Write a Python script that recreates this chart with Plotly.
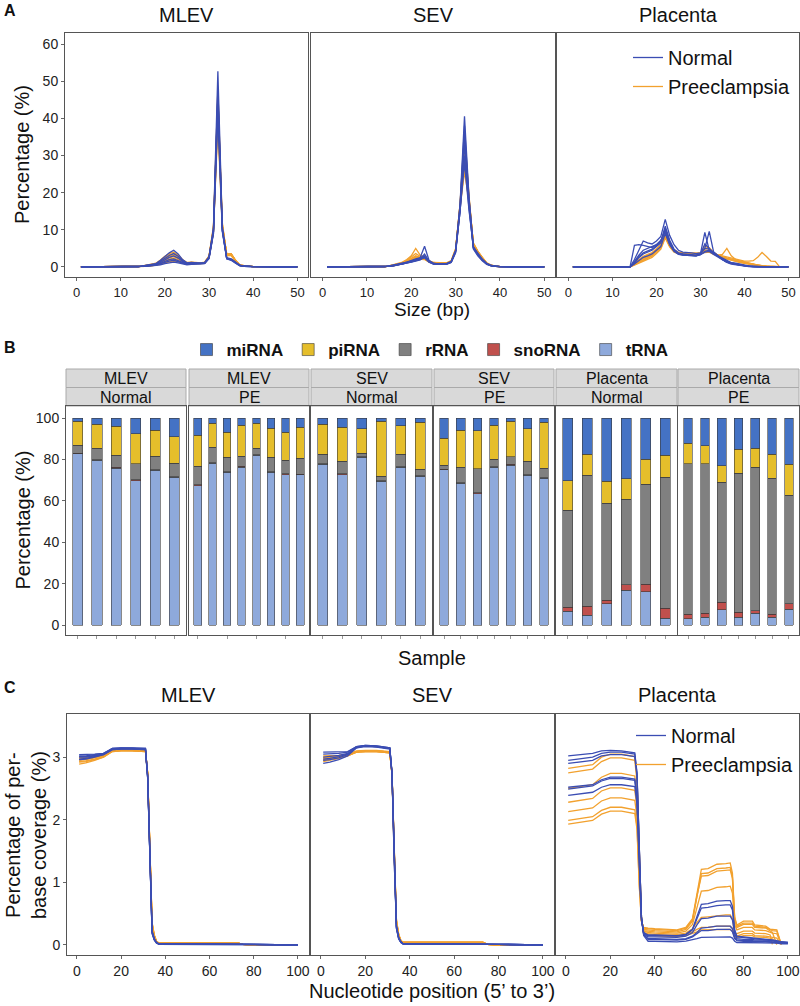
import plotly.graph_objects as go

W, H = 800, 1006
BLUE = "#3B4DB3"
ORANGE = "#F2A12E"
FONT = "Liberation Sans, Arial, Helvetica, sans-serif"

# ---------------- Panel A: size distribution ----------------
size_x = [1, 14, 15, 16, 17, 18, 19, 20, 21, 22, 23, 24, 25, 26, 27, 28, 29, 30,
          31, 32, 33, 34, 35, 36, 37, 38, 39, 40, 45, 50]
size_x_placenta = [1, 14, 15, 16, 17, 18, 19, 20, 21, 22, 23, 24, 25, 26, 27, 28, 29, 30,
                   31, 32, 33, 34, 35, 36, 37, 38, 39, 40, 41, 42, 43, 44, 45, 46, 47, 48, 49, 50]

mlev_size_normal = [
    [0,0,0.3,0.5,0.6,0.9,1.8,2.8,3.8,4.5,3.5,2.0,1.1,1.2,1.1,1.0,1.2,2.8,10.5,52.7,11.0,2.3,2.0,1.2,0.4,0.3,0.2,0.1,0,0],
    [0,0,0.2,0.4,0.5,0.7,1.2,1.9,2.6,3.0,2.4,1.5,0.9,1.0,1.0,0.9,1.1,2.5,9.5,45.9,10.0,2.2,1.8,1.0,0.3,0.2,0.1,0.1,0,0],
    [0,0,0.1,0.2,0.3,0.4,0.6,0.9,1.1,1.3,1.1,0.8,0.6,0.7,0.7,0.7,0.9,2.2,9.0,43.0,10.0,2.5,2.2,1.3,0.4,0.2,0.1,0.1,0,0],
    [0,0,0.3,0.4,0.6,0.8,1.5,2.4,3.1,3.6,2.9,1.7,1.0,1.1,1.0,0.9,1.1,2.6,10.0,48.0,10.5,2.4,2.0,1.1,0.4,0.3,0.2,0.1,0,0],
    [0,0,0.2,0.3,0.4,0.6,1.0,1.6,2.0,2.2,1.8,1.2,0.8,0.9,0.9,0.8,1.0,2.4,9.0,41.0,9.5,2.3,2.1,1.2,0.4,0.2,0.1,0.1,0,0],
    [0,0,0.2,0.3,0.4,0.5,0.9,1.3,1.6,1.8,1.5,1.0,0.7,0.8,0.8,0.8,1.0,2.5,9.5,46.0,10.0,2.2,1.9,1.1,0.3,0.2,0.1,0.1,0,0],
]
mlev_size_pe = [
    [0,0,0.3,0.5,0.7,1.0,1.9,2.9,3.6,4.0,3.2,2.0,1.2,1.3,1.2,1.1,1.3,3.0,11.0,47.9,12.0,3.3,3.3,1.6,0.5,0.3,0.2,0.1,0,0],
    [0,0,0.2,0.4,0.6,0.8,1.5,2.3,2.9,3.2,2.7,1.7,1.1,1.2,1.1,1.0,1.2,2.8,10.5,44.0,11.5,3.2,3.4,1.7,0.5,0.3,0.2,0.1,0,0],
    [0,0,0.2,0.3,0.5,0.7,1.3,2.0,2.5,2.8,2.3,1.5,1.0,1.1,1.0,1.0,1.2,2.7,10.0,42.0,11.0,3.5,3.6,1.8,0.5,0.3,0.2,0.1,0,0],
    [0,0,0.2,0.3,0.4,0.6,1.1,1.7,2.1,2.4,2.0,1.3,0.9,1.0,1.0,0.9,1.1,2.6,9.5,40.0,11.0,3.4,3.5,1.7,0.5,0.3,0.2,0.1,0,0],
    [0,0,0.1,0.2,0.4,0.5,0.9,1.4,1.8,2.0,1.7,1.1,0.8,0.9,0.9,0.9,1.1,2.7,10.0,46.0,11.5,3.1,3.2,1.6,0.5,0.3,0.2,0.1,0,0],
    [0,0,0.3,0.5,0.7,0.9,1.7,2.6,3.3,3.6,2.9,1.8,1.1,1.2,1.1,1.0,1.2,2.9,10.5,45.0,11.0,3.0,3.1,1.5,0.4,0.3,0.2,0.1,0,0],
    [0,0,0.1,0.2,0.3,0.4,0.7,1.1,1.4,1.6,1.4,1.0,0.7,0.8,0.8,0.8,1.0,2.5,9.5,43.0,11.0,3.3,3.5,1.7,0.5,0.3,0.2,0.1,0,0],
    [0,0,0.2,0.4,0.5,0.7,1.4,2.1,2.6,2.9,2.4,1.6,1.0,1.1,1.1,1.0,1.2,2.8,10.0,38.0,10.5,3.4,3.6,1.8,0.5,0.3,0.2,0.1,0,0],
]
sev_size_normal = [
    [0,0,0.3,0.5,0.8,1.0,1.3,1.8,2.2,2.5,5.6,1.8,1.0,0.8,0.8,0.9,1.5,4.5,17,40.6,19,5.5,3.5,2.0,0.9,0.4,0.2,0.1,0,0],
    [0,0,0.2,0.4,0.7,0.9,1.1,1.5,1.9,2.2,3.5,1.6,0.9,0.7,0.7,0.8,1.3,4.0,16,36.0,18,5.0,3.2,1.8,0.8,0.3,0.2,0.1,0,0],
    [0,0,0.2,0.3,0.5,0.7,1.0,1.3,1.6,1.9,2.8,1.4,0.8,0.7,0.7,0.8,1.2,3.8,15,33.0,17,4.8,3.0,1.7,0.7,0.3,0.1,0.1,0,0],
    [0,0,0.3,0.4,0.6,0.8,1.2,1.6,2.0,2.3,3.0,1.5,0.9,0.8,0.8,0.9,1.4,4.2,15,30.0,16,5.2,3.4,1.9,0.9,0.4,0.2,0.1,0,0],
    [0,0,0.2,0.3,0.5,0.8,1.1,1.4,1.8,2.0,2.5,1.3,0.8,0.7,0.7,0.8,1.3,4.3,16.5,38.0,18.5,5.3,3.3,1.9,0.8,0.3,0.2,0.1,0,0],
    [0,0,0.2,0.4,0.6,0.8,1.0,1.4,1.7,2.0,2.6,1.4,0.9,0.8,0.8,0.9,1.4,4.4,15,28.0,15.5,5.4,3.6,2.1,1.0,0.4,0.2,0.1,0,0],
]
sev_size_pe = [
    [0,0,0.3,0.5,0.8,1.1,1.6,2.4,3.0,2.6,2.2,1.5,1.1,1.0,1.0,1.0,1.5,4.6,17,34.2,19,6.0,4.0,2.3,1.0,0.4,0.2,0.1,0,0],
    [0,0,0.3,0.6,0.9,1.3,2.0,3.0,5.0,3.2,2.6,1.7,1.2,1.1,1.1,1.1,1.7,5.0,16,25.6,18,6.5,4.3,2.5,1.1,0.5,0.2,0.1,0,0],
    [0,0,0.2,0.4,0.7,1.0,1.4,2.0,2.6,2.4,2.1,1.4,1.0,0.9,0.9,1.0,1.5,4.5,16,31.0,18.5,6.2,4.1,2.4,1.0,0.4,0.2,0.1,0,0],
    [0,0,0.2,0.4,0.7,1.0,1.5,2.2,2.8,2.5,2.3,1.5,1.1,1.0,1.0,1.0,1.6,4.7,16.5,29.0,18,6.1,4.2,2.4,1.0,0.4,0.2,0.1,0,0],
    [0,0,0.2,0.3,0.6,0.9,1.2,1.7,2.2,2.1,2.0,1.3,0.9,0.8,0.9,0.9,1.4,4.4,17,36.0,19.5,5.8,3.8,2.2,0.9,0.4,0.2,0.1,0,0],
    [0,0,0.3,0.5,0.8,1.2,1.8,2.7,3.6,2.9,2.4,1.6,1.2,1.1,1.0,1.1,1.6,4.8,16,27.0,17.5,6.3,4.2,2.5,1.1,0.5,0.2,0.1,0,0],
    [0,0,0.2,0.4,0.6,0.9,1.3,1.9,2.4,2.2,2.1,1.4,1.0,0.9,0.9,1.0,1.5,4.5,16.5,32.0,18.5,6.0,4.0,2.3,1.0,0.4,0.2,0.1,0,0],
]
placenta_size_normal = [
    [0,0,2.0,4.5,7.0,6.5,6.2,7.0,8.2,12.8,8.5,6.0,4.5,4.0,4.0,3.8,3.6,3.8,5.0,4.8,3.6,3.0,2.2,1.6,1.2,1.0,0.7,0.5,0.3,0.2,0.1,0.1,0.05,0,0,0,0,0],
    [0,0,1.0,2.5,3.5,4.0,4.5,5.5,6.5,10.5,7.0,4.5,3.5,3.2,3.2,3.0,3.0,3.5,9.3,4.5,4.0,3.0,2.0,1.3,1.0,0.8,0.5,0.3,0.2,0.1,0.1,0.05,0,0,0,0,0,0],
    [0,0,1.2,2.8,3.8,4.2,4.8,5.8,6.8,11.0,7.2,4.8,3.8,3.5,3.5,3.3,3.2,3.6,5.0,9.6,4.0,3.0,2.0,1.3,0.9,0.7,0.5,0.3,0.2,0.1,0.05,0,0,0,0,0,0,0],
    [0,0,0.8,1.8,2.6,3.0,3.5,4.5,5.5,9.0,6.0,4.2,3.4,3.2,3.2,3.0,3.0,3.3,4.2,4.5,3.6,2.8,2.0,1.4,1.0,0.8,0.5,0.3,0.2,0.1,0.05,0,0,0,0,0,0,0],
    [0,0,1.5,3.2,4.5,5.0,5.3,6.0,7.0,10.0,6.5,4.5,3.6,3.4,3.4,3.2,3.1,3.4,6.2,5.0,3.8,2.9,2.1,1.5,1.1,0.8,0.6,0.4,0.2,0.1,0.05,0,0,0,0,0,0,0],
    [0,0,5.8,6.0,5.8,5.5,5.2,6.0,7.2,9.5,6.2,4.3,3.5,3.3,3.3,3.1,3.0,3.3,4.0,4.2,3.4,2.6,1.8,1.2,0.8,0.6,0.4,0.2,0.1,0.05,0,0,0,0,0,0,0,0],
]
placenta_size_pe = [
    [0,0,0.6,1.2,1.8,2.4,3.0,4.0,5.2,8.1,5.6,4.2,3.8,3.8,3.8,3.7,3.6,3.8,4.4,4.6,3.8,3.2,3.0,2.7,2.3,2.0,1.8,1.6,1.6,1.7,2.6,3.9,2.8,1.6,1.5,0,0,0],
    [0,0,0.8,1.6,2.3,2.8,3.3,4.2,5.5,9.0,6.2,4.6,3.9,3.8,3.8,3.6,3.5,3.8,4.0,4.2,3.5,3.2,3.4,5.0,3.0,2.0,1.6,1.3,1.0,0.7,0.5,0.3,0.2,0.1,0.05,0,0,0],
    [0,0,1.0,1.9,2.6,3.1,3.6,4.6,5.8,8.8,6.0,4.4,3.8,3.7,3.7,3.5,3.4,3.6,4.8,5.2,3.9,3.1,2.5,2.2,1.8,1.5,1.2,1.0,0.8,0.6,0.4,0.3,0.2,0.1,0,0,0,0],
    [0,0,0.7,1.4,2.0,2.6,3.1,4.1,5.3,9.6,6.4,4.5,3.8,3.6,3.6,3.5,3.4,3.7,4.5,4.3,3.6,3.0,2.6,2.3,2.0,1.8,1.6,1.2,0.9,0.6,0.4,0.3,0.2,0.1,0,0,0,0],
    [0,0,0.9,1.7,2.4,2.9,3.4,4.3,5.4,8.4,5.8,4.3,3.7,3.6,3.6,3.5,3.4,3.6,3.9,4.0,3.4,2.9,2.5,2.2,1.9,1.6,1.4,1.1,0.8,0.6,0.4,0.3,0.2,0.1,0,0,0,0],
    [0,0,0.5,1.0,1.5,2.0,2.6,3.6,4.8,7.8,5.4,4.0,3.6,3.5,3.5,3.4,3.3,3.5,4.1,4.4,3.6,3.1,2.8,2.4,2.1,1.9,1.6,1.3,1.0,0.7,0.5,0.3,0.2,0.1,0.05,0,0,0],
    [0,0,1.1,2.1,2.9,3.4,3.9,4.9,6.1,9.2,6.3,4.6,3.9,3.8,3.8,3.6,3.5,3.7,5.6,5.0,3.9,3.1,2.6,2.3,1.9,1.6,1.3,1.0,0.7,0.5,0.3,0.2,0.1,0.05,0,0,0,0],
]

# ---------------- Panel B: RNA composition ----------------
rna_classes = ["tRNA", "snoRNA", "rRNA", "piRNA", "miRNA"]   # stacking order (bottom -> top)
rna_colors = {"miRNA": "#4472C4", "piRNA": "#E5BE2B", "rRNA": "#808080",
              "snoRNA": "#C0504D", "tRNA": "#8EA9DB"}
facet_tissue = ["MLEV", "MLEV", "SEV", "SEV", "Placenta", "Placenta"]
facet_group = ["Normal", "PE", "Normal", "PE", "Normal", "PE"]

tRNA = [
    [82.7, 79.5, 75.8, 69.8, 74.7, 71.3],
    [67.4, 78.1, 73.7, 76.3, 81.9, 73.7, 72.7, 72.6],
    [77.6, 72.7, 81.0, 69.4, 76.1, 71.8],
    [75.0, 68.5, 63.5, 76.1, 77.3, 72.3, 70.8],
    [6.6, 4.7, 10.2, 16.8, 16.1, 3.2],
    [3.1, 3.7, 7.4, 3.7, 5.6, 3.7, 7.6],
]
snoRNA = [
    [0.3, 0.3, 0.3, 0.3, 0.3, 0.3],
    [0.3, 0.3, 0.3, 0.3, 0.3, 0.3, 0.3, 0.3],
    [0.3, 0.3, 0.3, 0.3, 0.3, 0.3],
    [0.3, 0.3, 0.3, 0.3, 0.3, 0.3, 0.3],
    [1.9, 4.5, 1.9, 2.6, 3.6, 4.9],
    [2.1, 1.9, 3.6, 2.4, 1.3, 1.6, 2.6],
]
rRNA = [
    [3.8, 5.7, 6.0, 7.8, 6.6, 6.6],
    [9.1, 7.6, 7.0, 5.0, 3.3, 7.0, 6.7, 7.7],
    [4.7, 6.2, 1.8, 2.2, 6.2, 3.2],
    [2.0, 7.5, 11.7, 3.8, 3.7, 6.6, 4.7],
    [47.0, 63.2, 46.8, 41.4, 48.4, 63.4],
    [72.7, 72.3, 58.0, 67.3, 69.4, 65.7, 52.5],
]
piRNA = [
    [11.6, 11.4, 14.0, 14.5, 12.4, 12.8],
    [14.8, 11.4, 12.2, 14.9, 11.9, 14.0, 13.4, 14.9],
    [14.5, 16.3, 11.7, 26.5, 13.7, 22.6],
    [13.0, 17.9, 18.4, 16.3, 17.1, 15.5, 22.1],
    [14.3, 10.0, 10.5, 9.8, 11.9, 10.4],
    [9.8, 8.6, 7.9, 11.6, 9.2, 11.6, 14.9],
]
miRNA = [
    [1.6, 3.1, 3.9, 7.6, 6.0, 9.0],
    [8.4, 2.6, 6.8, 3.5, 2.6, 5.0, 6.9, 4.5],
    [2.9, 4.5, 5.2, 1.6, 3.7, 2.1],
    [9.7, 5.8, 6.1, 3.5, 1.6, 5.3, 2.1],
    [30.2, 17.6, 30.6, 29.4, 20.0, 18.1],
    [12.3, 13.5, 23.1, 15.0, 14.5, 17.4, 22.4],
]
rna_values = {"tRNA": tRNA, "snoRNA": snoRNA, "rRNA": rRNA, "piRNA": piRNA, "miRNA": miRNA}

# ---------------- Panel C: per-base coverage ----------------
cov_x = [1, 4, 8, 12, 16, 20, 25, 31, 32, 33, 34, 35, 36, 37, 40, 60, 73, 75, 80, 100]
cov_x_placenta = [1, 12, 16, 20, 25, 31, 32, 33, 34, 35, 37, 40, 50, 54, 57, 59, 61, 64, 68,
                  72, 74, 75, 76, 77, 80, 84, 85, 90, 92, 93, 95, 97, 100]

mlev_cov_normal = [
    [3.04,3.04,3.05,3.06,3.14,3.15,3.15,3.14,2.70,1.30,0.22,0.10,0.04,0.02,0.02,0.02,0.02,0.01,0.01,0.00],
    [3.02,3.02,3.04,3.06,3.13,3.14,3.14,3.13,2.68,1.28,0.20,0.09,0.04,0.02,0.02,0.02,0.02,0.01,0.01,0.00],
    [2.97,2.98,3.01,3.04,3.12,3.13,3.13,3.12,2.66,1.25,0.18,0.08,0.03,0.01,0.01,0.01,0.01,0.01,0.00,0.00],
    [3.00,3.00,3.02,3.05,3.13,3.14,3.14,3.13,2.69,1.29,0.21,0.09,0.04,0.02,0.02,0.02,0.02,0.01,0.01,0.00],
    [2.96,2.97,3.00,3.04,3.12,3.13,3.13,3.12,2.67,1.27,0.19,0.08,0.03,0.02,0.02,0.02,0.02,0.01,0.01,0.00],
    [3.01,3.01,3.03,3.05,3.14,3.15,3.15,3.14,2.71,1.31,0.22,0.10,0.04,0.02,0.02,0.02,0.02,0.01,0.01,0.00],
]
mlev_cov_pe = [
    [2.89,2.91,2.95,3.00,3.09,3.10,3.10,3.09,2.75,1.45,0.35,0.15,0.06,0.03,0.03,0.03,0.03,0.01,0.00,0.00],
    [2.93,2.94,2.97,3.01,3.10,3.11,3.11,3.10,2.74,1.42,0.33,0.14,0.05,0.03,0.03,0.03,0.03,0.01,0.00,0.00],
    [2.95,2.96,2.99,3.02,3.11,3.11,3.11,3.10,2.73,1.40,0.30,0.13,0.05,0.03,0.03,0.03,0.03,0.01,0.00,0.00],
    [2.98,2.98,3.00,3.03,3.10,3.11,3.11,3.10,2.72,1.38,0.28,0.12,0.05,0.03,0.03,0.03,0.03,0.01,0.00,0.00],
    [3.00,3.00,3.02,3.04,3.11,3.12,3.12,3.11,2.74,1.41,0.32,0.14,0.05,0.03,0.03,0.03,0.03,0.01,0.00,0.00],
    [2.92,2.93,2.96,3.00,3.09,3.10,3.10,3.09,2.73,1.43,0.34,0.15,0.06,0.03,0.03,0.03,0.03,0.01,0.00,0.00],
    [2.96,2.97,3.00,3.03,3.12,3.12,3.12,3.11,2.75,1.44,0.36,0.16,0.06,0.03,0.03,0.03,0.03,0.01,0.00,0.00],
    [2.99,2.99,3.01,3.03,3.10,3.11,3.11,3.10,2.72,1.39,0.29,0.13,0.05,0.03,0.03,0.03,0.03,0.01,0.00,0.00],
]
sev_cov_normal = [
    [3.08,3.08,3.08,3.09,3.17,3.19,3.18,3.15,2.75,1.35,0.30,0.12,0.05,0.02,0.02,0.02,0.02,0.01,0.01,0.00],
    [2.90,2.92,2.96,3.02,3.15,3.18,3.17,3.14,2.74,1.33,0.28,0.11,0.05,0.02,0.02,0.02,0.02,0.01,0.01,0.00],
    [2.97,2.98,3.01,3.05,3.16,3.18,3.17,3.14,2.73,1.32,0.27,0.10,0.04,0.02,0.02,0.02,0.02,0.01,0.01,0.00],
    [3.05,3.05,3.06,3.08,3.17,3.19,3.18,3.15,2.76,1.36,0.30,0.12,0.05,0.02,0.02,0.02,0.02,0.01,0.01,0.00],
    [2.95,2.96,2.99,3.04,3.15,3.17,3.16,3.13,2.72,1.31,0.26,0.10,0.04,0.02,0.02,0.02,0.02,0.01,0.01,0.00],
    [3.00,3.01,3.03,3.06,3.16,3.18,3.17,3.14,2.74,1.34,0.29,0.11,0.05,0.02,0.02,0.02,0.02,0.01,0.01,0.00],
]
sev_cov_pe = [
    [2.93,2.95,2.98,3.02,3.08,3.09,3.09,3.07,2.74,1.45,0.38,0.16,0.07,0.04,0.04,0.04,0.04,0.01,0.00,0.00],
    [2.96,2.97,3.00,3.03,3.09,3.10,3.10,3.08,2.75,1.46,0.40,0.17,0.07,0.04,0.04,0.04,0.04,0.01,0.00,0.00],
    [3.00,3.00,3.02,3.04,3.09,3.10,3.10,3.08,2.73,1.43,0.36,0.15,0.06,0.04,0.04,0.04,0.04,0.01,0.00,0.00],
    [2.98,2.99,3.01,3.03,3.08,3.09,3.09,3.07,2.72,1.42,0.35,0.15,0.06,0.04,0.04,0.04,0.04,0.01,0.00,0.00],
    [3.02,3.02,3.03,3.05,3.10,3.11,3.11,3.09,2.76,1.47,0.40,0.17,0.07,0.04,0.04,0.04,0.04,0.01,0.00,0.00],
    [2.95,2.96,2.99,3.02,3.08,3.09,3.09,3.07,2.74,1.44,0.37,0.16,0.06,0.04,0.04,0.04,0.04,0.01,0.00,0.00],
    [2.99,2.99,3.01,3.04,3.09,3.10,3.10,3.08,2.73,1.41,0.34,0.14,0.06,0.04,0.04,0.04,0.04,0.01,0.00,0.00],
]
placenta_cov_normal = [
    [3.02,3.06,3.10,3.11,3.10,3.07,2.75,1.40,0.45,0.15,0.06,0.06,0.05,0.06,0.08,0.10,0.12,0.12,0.13,0.13,0.13,0.11,0.06,0.04,0.04,0.04,0.04,0.03,0.03,0.03,0.03,0.02,0.02],
    [2.90,2.95,3.02,3.04,3.04,3.01,2.70,1.35,0.45,0.17,0.09,0.09,0.08,0.09,0.13,0.18,0.23,0.23,0.25,0.25,0.25,0.21,0.10,0.07,0.06,0.06,0.05,0.05,0.05,0.04,0.04,0.03,0.03],
    [2.52,2.56,2.64,2.68,2.68,2.65,2.35,1.20,0.42,0.20,0.16,0.16,0.15,0.17,0.25,0.45,0.65,0.66,0.70,0.71,0.71,0.62,0.25,0.14,0.13,0.12,0.11,0.10,0.09,0.08,0.07,0.05,0.04],
    [2.49,2.54,2.62,2.66,2.66,2.63,2.33,1.18,0.40,0.18,0.13,0.13,0.12,0.14,0.20,0.32,0.42,0.43,0.46,0.46,0.46,0.40,0.18,0.10,0.09,0.09,0.08,0.08,0.07,0.06,0.06,0.04,0.03],
    [2.39,2.44,2.52,2.56,2.56,2.53,2.25,1.15,0.40,0.19,0.15,0.15,0.14,0.16,0.24,0.42,0.59,0.60,0.63,0.64,0.64,0.56,0.22,0.13,0.12,0.11,0.10,0.09,0.08,0.07,0.06,0.05,0.04],
    [2.95,3.00,3.06,3.08,3.08,3.05,2.73,1.37,0.45,0.17,0.10,0.10,0.09,0.10,0.14,0.20,0.27,0.28,0.30,0.30,0.30,0.26,0.12,0.08,0.07,0.07,0.06,0.06,0.05,0.05,0.04,0.03,0.03],
]
placenta_cov_pe = [
    [1.93,1.99,2.09,2.14,2.14,2.10,1.85,0.95,0.38,0.28,0.27,0.26,0.24,0.28,0.42,0.85,1.21,1.22,1.29,1.30,1.31,1.15,0.45,0.32,0.38,0.38,0.32,0.30,0.25,0.25,0.24,0.01,None],
    [1.99,2.05,2.15,2.20,2.20,2.16,1.90,0.98,0.38,0.27,0.26,0.25,0.23,0.27,0.40,0.80,1.14,1.15,1.22,1.23,1.24,1.09,0.43,0.30,0.35,0.35,0.30,0.28,0.24,0.23,0.22,0.01,None],
    [2.13,2.19,2.30,2.35,2.35,2.31,2.05,1.05,0.38,0.25,0.24,0.23,0.21,0.25,0.38,0.78,1.10,1.11,1.18,1.19,1.20,1.06,0.41,0.28,0.33,0.33,0.28,0.27,0.23,0.20,0.01,None,None],
    [2.28,2.34,2.46,2.51,2.51,2.47,2.20,1.12,0.40,0.23,0.22,0.21,0.19,0.22,0.33,0.62,0.86,0.87,0.92,0.93,0.94,0.83,0.33,0.24,0.28,0.28,0.24,0.23,0.20,0.19,0.18,0.01,None],
    [2.50,2.56,2.68,2.74,2.74,2.70,2.40,1.22,0.42,0.22,0.20,0.19,0.17,0.19,0.26,0.36,0.44,0.45,0.47,0.48,0.48,0.42,0.20,0.18,0.22,0.22,0.19,0.18,0.16,0.01,None,None,None],
    [2.75,2.81,2.93,2.99,2.99,2.95,2.62,1.32,0.45,0.20,0.18,0.17,0.15,0.17,0.21,0.25,0.28,0.28,0.30,0.30,0.30,0.27,0.15,0.14,0.18,0.18,0.15,0.14,0.13,0.12,0.11,0.01,None],
    [2.82,2.88,3.00,3.05,3.05,3.01,2.68,1.35,0.45,0.19,0.16,0.15,0.13,0.15,0.18,0.21,0.24,0.24,0.25,0.25,0.25,0.22,0.13,0.12,0.15,0.15,0.13,0.12,0.11,0.10,0.01,None,None],
]

panel_titles = ["MLEV", "SEV", "Placenta"]

# ---------------- geometry (pixels) ----------------
A_X = [(65, 308), (311, 555), (557, 799)]
A_Y = (33, 277)
B_X = [(66, 186), (189, 309), (311, 432), (434, 554), (556, 677), (678, 799)]
B_Y = (406, 635)
C_X = [(67, 309), (311, 554), (556, 799)]
C_Y = (714, 955)


def xd(a, b):
    return [a / W, b / W]


def yd(top, bot):
    return [1 - bot / H, 1 - top / H]


def px(x):
    return x / W


def py(y):
    return 1 - y / H


fig = go.Figure()


def add_lines(xv, normals, pes, ax_idx, legend_name):
    xa = "x" if ax_idx == 1 else "x%d" % ax_idx
    ya = "y" if ax_idx == 1 else "y%d" % ax_idx
    for i, yv in enumerate(pes):
        fig.add_trace(go.Scatter(
            x=xv[:len(yv)], y=yv, mode="lines", xaxis=xa, yaxis=ya,
            line=dict(color=ORANGE, width=1.3), name="Preeclampsia",
            legend=legend_name, legendgroup=legend_name + "pe", legendrank=2,
            showlegend=(i == 0 and ax_idx in (3, 12)),
            hoverinfo="skip", connectgaps=False))
    for i, yv in enumerate(normals):
        fig.add_trace(go.Scatter(
            x=xv[:len(yv)], y=yv, mode="lines", xaxis=xa, yaxis=ya,
            line=dict(color=BLUE, width=1.3), name="Normal",
            legend=legend_name, legendgroup=legend_name + "n", legendrank=1,
            showlegend=(i == 0 and ax_idx in (3, 12)),
            hoverinfo="skip"))


# Panel A
add_lines(size_x, mlev_size_normal, mlev_size_pe, 1, "legend")
add_lines(size_x, sev_size_normal, sev_size_pe, 2, "legend")
add_lines(size_x_placenta, placenta_size_normal, placenta_size_pe, 3, "legend")

# Panel B
for k in range(6):
    ax = 4 + k
    n = len(tRNA[k])
    cats = ["%s %s %d" % (facet_tissue[k], facet_group[k], i + 1) for i in range(n)]
    for cls in rna_classes:
        fig.add_trace(go.Bar(
            x=cats, y=rna_values[cls][k], name="<b>%s</b>" % cls,
            marker=dict(color=rna_colors[cls], line=dict(color="#3a3a3a", width=0.6)),
            width=0.52, xaxis="x%d" % ax, yaxis="y%d" % ax,
            legend="legend3", showlegend=(k == 0), hoverinfo="skip"))

# Panel C
add_lines(cov_x, mlev_cov_normal, mlev_cov_pe, 10, "legend2")
add_lines(cov_x, sev_cov_normal, sev_cov_pe, 11, "legend2")
add_lines(cov_x_placenta, placenta_cov_normal, placenta_cov_pe, 12, "legend2")

# ---------------- axes ----------------
axis_common = dict(showline=True, mirror=True, linecolor="#555555", linewidth=1,
                   showgrid=False, zeroline=False, ticks="outside", ticklen=3,
                   tickcolor="#666666", tickfont=dict(size=14, color="#222222"))

layout_axes = {}
for i in range(3):
    idx = 1 + i
    kx = "xaxis" if idx == 1 else "xaxis%d" % idx
    ky = "yaxis" if idx == 1 else "yaxis%d" % idx
    layout_axes[kx] = dict(axis_common, domain=xd(*A_X[i]), range=[-2.6, 52.4],
                           tickfont=dict(size=13, color="#222222"),
                           tickvals=[0, 10, 20, 30, 40, 50], anchor="y" if idx == 1 else "y%d" % idx)
    layout_axes[ky] = dict(axis_common, domain=yd(*A_Y), range=[-2.7, 63],
                           tickvals=[0, 10, 20, 30, 40, 50, 60],
                           showticklabels=(i == 0), ticks="outside" if i == 0 else "",
                           anchor="x" if idx == 1 else "x%d" % idx)

for k in range(6):
    idx = 4 + k
    n = len(tRNA[k])
    layout_axes["xaxis%d" % idx] = dict(axis_common, domain=xd(*B_X[k]), type="category",
                                        range=[-0.6, n - 0.4], showticklabels=False,
                                        tickcolor="#999999", anchor="y%d" % idx)
    layout_axes["yaxis%d" % idx] = dict(axis_common, domain=yd(*B_Y), range=[-4.8, 105.8],
                                        tickvals=[0, 20, 40, 60, 80, 100],
                                        showticklabels=(k == 0), ticks="outside" if k == 0 else "",
                                        anchor="x%d" % idx)

for i in range(3):
    idx = 10 + i
    layout_axes["xaxis%d" % idx] = dict(axis_common, domain=xd(*C_X[i]), range=[-4.5, 105],
                                        tickvals=[0, 20, 40, 60, 80, 100], anchor="y%d" % idx)
    layout_axes["yaxis%d" % idx] = dict(axis_common, domain=yd(*C_Y), range=[-0.16, 3.69],
                                        tickvals=[0, 1, 2, 3],
                                        showticklabels=(i == 0), ticks="outside" if i == 0 else "",
                                        anchor="x%d" % idx)

# ---------------- annotations & strips ----------------
ann = []
shapes = []


def text(x, y, s, size, angle=0, bold=False, anchor="center"):
    ann.append(dict(x=px(x), y=py(y), xref="paper", yref="paper", text=("<b>%s</b>" % s) if bold else s,
                    showarrow=False, font=dict(size=size, color="#111111", family=FONT),
                    textangle=angle, xanchor=anchor, yanchor="middle"))


text(10, 10, "A", 16, bold=True)
text(10, 347, "B", 16, bold=True)
text(10, 687, "C", 16, bold=True)

for i, t in enumerate(panel_titles):
    text((A_X[i][0] + A_X[i][1]) / 2, 15, t, 20)
    text((C_X[i][0] + C_X[i][1]) / 2, 695, t, 20)

text(22, (A_Y[0] + A_Y[1]) / 2, "Percentage (%)", 20, angle=-90)
text(432, 309, "Size (bp)", 19)
text(22, (B_Y[0] + B_Y[1]) / 2, "Percentage (%)", 20, angle=-90)
text(432, 658, "Sample", 20)
text(26, 835, "Percentage of per-<br>base coverage (%)", 20, angle=-90)
text(432, 991, "Nucleotide position (5’ to 3’)", 20)

for k in range(6):
    x0, x1 = B_X[k]
    for (t0, t1, label) in [(369, 387.5, facet_tissue[k]), (387.5, 406, facet_group[k])]:
        shapes.append(dict(type="rect", xref="paper", yref="paper", x0=px(x0), x1=px(x1),
                           y0=py(t1), y1=py(t0), fillcolor="#D9D9D9",
                           line=dict(color="#AAAAAA", width=1), layer="below"))
        text((x0 + x1) / 2, (t0 + t1) / 2 + 0.5, label, 16)

fig.update_layout(
    width=W, height=H, margin=dict(l=0, r=0, t=0, b=0),
    paper_bgcolor="white", plot_bgcolor="white",
    font=dict(family=FONT, color="#111111"),
    barmode="stack", hovermode=False,
    annotations=ann, shapes=shapes,
    legend=dict(x=px(628), y=py(38), xanchor="left", yanchor="top", bgcolor="rgba(0,0,0,0)",
                font=dict(size=20, color="#111111"), itemwidth=30, tracegroupgap=0, traceorder="normal"),
    legend2=dict(x=px(631), y=py(716), xanchor="left", yanchor="top", bgcolor="rgba(0,0,0,0)",
                 font=dict(size=20, color="#111111"), itemwidth=30, tracegroupgap=0, traceorder="normal"),
    legend3=dict(x=px(430), y=py(350), xanchor="center", yanchor="middle", orientation="h",
                 bgcolor="rgba(0,0,0,0)", font=dict(size=17, color="#111111"),
                 traceorder="reversed", itemwidth=30),
    **layout_axes,
)

fig.write_html("out.html", config={"displayModeBar": False},
               post_script="document.body.style.margin='0px';document.body.style.overflow='hidden';")
